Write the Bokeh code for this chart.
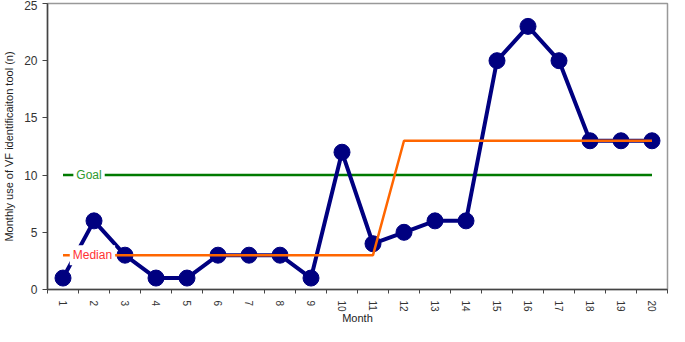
import numpy as np
from bokeh.plotting import figure
from bokeh.models import FixedTicker, Label, Range1d
from bokeh.embed import file_html
from bokeh.resources import INLINE

months = list(range(1, 21))
usage = [1, 6, 3, 1, 1, 3, 3, 3, 1, 12, 4, 5, 6, 6, 20, 23, 20, 13, 13, 13]
median_x = [1, 11, 12, 20]
median_y = [3, 3, 13, 13]
goal_x = [1, 20]
goal_y = [10, 10]
y_ticks = [0, 5, 10, 15, 20, 25]

FONT = "Liberation Sans"

p = figure(width=669, height=326, output_backend="svg", toolbar_location=None,
           x_range=Range1d(0.5, 20.5), y_range=Range1d(0, 25),
           min_border_left=32, min_border_right=2, min_border_top=3, min_border_bottom=20)
p.grid.visible = False
p.outline_line_color = "#999999"
p.outline_line_width = 1.5
p.background_fill_color = "white"
p.border_fill_color = "white"

# x axis: labels at month centres, tick marks between months
p.xaxis.ticker = FixedTicker(ticks=months, minor_ticks=[m + 0.5 for m in [0] + months])
p.xaxis.major_tick_line_color = None
p.xaxis.major_tick_out = 0
p.xaxis.major_tick_in = 0
p.xaxis.minor_tick_out = 4
p.xaxis.minor_tick_in = 0
p.xaxis.minor_tick_line_color = "#444444"
p.xaxis.major_label_orientation = -np.pi / 2
p.xaxis.major_label_standoff = 7
p.xaxis.axis_label = "Month"
p.xaxis.axis_label_standoff = -3

p.yaxis.ticker = FixedTicker(ticks=y_ticks, minor_ticks=[])
p.yaxis.major_tick_out = 5
p.yaxis.major_tick_in = 0
p.yaxis.axis_label = "Monthly use of VF identificaiton tool (n)"
p.yaxis.axis_label_standoff = 6

for ax in (p.xaxis[0], p.yaxis[0]):
    ax.axis_line_color = "#444444"
    ax.axis_line_width = 1.5
    ax.major_label_text_font = FONT
    ax.major_label_text_font_size = "10px"
    ax.major_label_text_color = "#333333"
    ax.axis_label_text_font = FONT
    ax.axis_label_text_font_size = "11px"
    ax.axis_label_text_font_style = "normal"
    ax.axis_label_text_color = "#222222"
p.yaxis.major_tick_line_color = "#444444"
p.yaxis.major_label_text_font_size = "12px"
p.xaxis.axis_label_text_line_height = 0.8
p.xaxis.major_label_text_line_height = 0.8

# goal line
p.line(goal_x, goal_y, line_color="#007a00", line_width=2.5)
# data
p.line(months, usage, line_color="#000080", line_width=4)
p.scatter(months, usage, size=16, fill_color="#000080", line_color="#000080")
# median line
p.line(median_x, median_y, line_color="#ff6600", line_width=2.5)

p.add_layout(Label(x=1.84, y=10, text="Goal", text_color="#2e9a2e", text_font=FONT,
                   text_font_size="12px", text_align="center", text_baseline="middle",
                   background_fill_color="white", padding=3))
p.add_layout(Label(x=1.95, y=3, text="Median", text_color="#ff3333", text_font=FONT,
                   text_font_size="12px", text_align="center", text_baseline="middle",
                   background_fill_color="white", padding=3))

open("out.html", "w").write(file_html(p, INLINE))
